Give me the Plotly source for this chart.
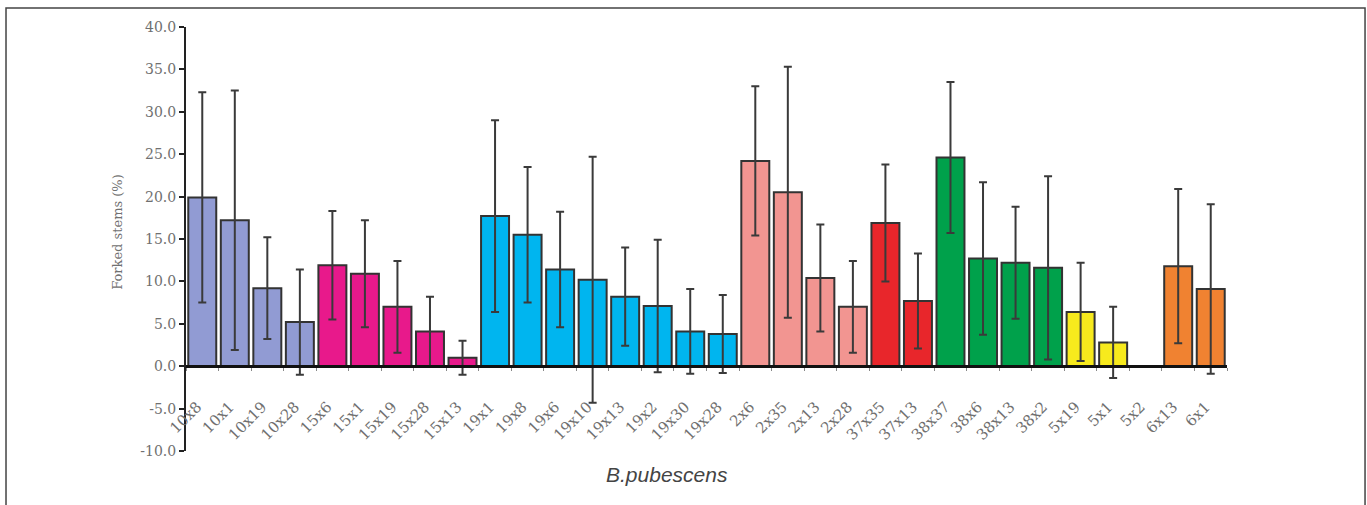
import plotly.graph_objects as go

categories = ["10x8", "10x1", "10x19", "10x28",
              "15x6", "15x1", "15x19", "15x28", "15x13",
              "19x1", "19x8", "19x6", "19x10", "19x13", "19x2", "19x30", "19x28",
              "2x6", "2x35", "2x13", "2x28",
              "37x35", "37x13",
              "38x37", "38x6", "38x13", "38x2",
              "5x19", "5x1", "5x2",
              "6x13", "6x1"]

values = [19.9, 17.2, 9.2, 5.2,
          11.9, 10.9, 7.0, 4.1, 1.0,
          17.7, 15.5, 11.4, 10.2, 8.2, 7.1, 4.1, 3.8,
          24.2, 20.5, 10.4, 7.0,
          16.9, 7.7,
          24.6, 12.7, 12.2, 11.6,
          6.4, 2.8, None,
          11.8, 9.1]

errors = [12.4, 15.3, 6.0, 6.2,
          6.4, 6.3, 5.4, 4.1, 2.0,
          11.3, 8.0, 6.8, 14.5, 5.8, 7.8, 5.0, 4.6,
          8.8, 14.8, 6.3, 5.4,
          6.9, 5.6,
          8.9, 9.0, 6.6, 10.8,
          5.8, 4.2, None,
          9.1, 10.0]

group_colors = {"10": "#919bd3", "15": "#e8198b", "19": "#00b5ef", "2": "#f29591",
                "37": "#e8262b", "38": "#00a14b", "5": "#f7ea1d", "6": "#f08231"}
colors = [group_colors[c.split("x")[0]] for c in categories]

y_ticks = [-10, -5, 0, 5, 10, 15, 20, 25, 30, 35, 40]

fig = go.Figure()
fig.add_trace(go.Bar(
    x=categories, y=values,
    marker=dict(color=colors, line=dict(color="#333333", width=2)),
    width=0.86,
    error_y=dict(type="data", array=errors, visible=True,
                 color="#3a3a3a", thickness=2, width=4),
    showlegend=False,
))

fig.update_layout(
    width=1367, height=505,
    margin=dict(l=186, r=140, t=27, b=54),
    paper_bgcolor="white", plot_bgcolor="white",
    font=dict(family="DejaVu Serif", color="#707070"),
    xaxis=dict(
        type="category", range=[-0.5, 31.5], automargin=False,
        anchor="free", position=0.2,
        showline=True, linecolor="#111111", linewidth=3,
        ticks="outside", tickson="boundaries", ticklen=3, tickcolor="#888888",
        tickangle=-45, ticklabelstandoff=24, ticklabelshift=-5,
        tickfont=dict(family="DejaVu Serif", size=15, color="#707070"),
        showgrid=False, zeroline=False,
    ),
    yaxis=dict(
        range=[-10, 40], tickvals=y_ticks, automargin=False,
        ticktext=["%.1f" % v for v in y_ticks],
        showline=True, linecolor="#222222", linewidth=2,
        ticks="outside", ticklen=5, tickcolor="#222222", tickwidth=2,
        tickfont=dict(family="DejaVu Serif", size=14, color="#707070"),
        showgrid=False, zeroline=False,
    ),
    annotations=[
        dict(text="<i>B.pubescens</i>", xref="paper", yref="paper",
             x=0.462, y=-0.055, showarrow=False, xanchor="center", yanchor="middle",
             font=dict(family="Liberation Sans", size=21, color="#444444")),
        dict(text="Forked stems (%)", xref="paper", yref="paper",
             x=-0.0653, y=0.517, showarrow=False, textangle=-90,
             xanchor="center", yanchor="middle",
             font=dict(family="DejaVu Serif", size=13, color="#707070")),
    ],
    shapes=[dict(type="rect", xref="paper", yref="paper",
                 x0=-0.1729, x1=1.1326, y0=-0.3, y1=1.0448,
                 line=dict(color="#444444", width=1.5), layer="below")],
)

fig.write_html("out.html", config={"displayModeBar": False},
               post_script="document.body.style.margin='0';document.body.style.overflow='hidden';")
